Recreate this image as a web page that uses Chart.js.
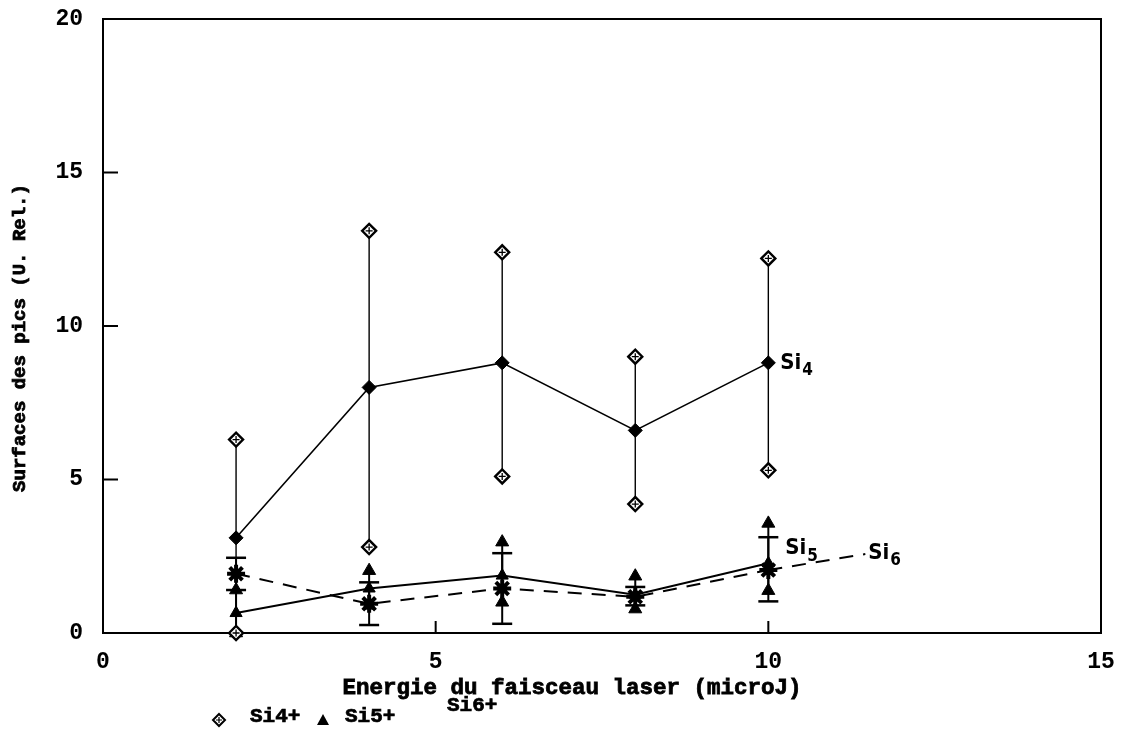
<!DOCTYPE html>
<html>
<head>
<meta charset="utf-8">
<script src="https://cdn.jsdelivr.net/npm/chart.js@4.4.1/dist/chart.umd.min.js"></script>
<style>
  html, body { margin: 0; padding: 0; background: #fff; }
  #wrap { width: 1126px; height: 751px; position: relative; }
  canvas { display: block; }
</style>
</head>
<body>
<div id="wrap"><canvas id="c" width="1126" height="751"></canvas></div>
<script>
// Laser pulse energy (microJ)
const energies = [2, 4, 6, 8, 10];

// Peak areas, Si4+ (mean, lower and upper bounds)
const si4Mean = [3.1, 8.0, 8.8, 6.6, 8.8];
const si4Low  = [0.0, 2.8, 5.1, 4.2, 5.3];
const si4High = [6.3, 13.1, 12.4, 9.0, 12.2];

// Peak areas, Si5+
const si5Mean = [0.65, 1.45, 1.87, 1.25, 2.27];
const si5Low  = [0.0, 0.9, 1.0, 0.78, 1.38];
const si5High = [1.4, 2.03, 2.96, 1.85, 3.57];

// Peak areas, Si6+
const si6Mean = [1.93, 0.95, 1.45, 1.18, 2.05];
const si6Low  = [1.4, 0.26, 0.3, 0.9, 1.03];
const si6High = [2.45, 1.65, 2.6, 1.5, 3.12];

// Axis ticks and text
const xTicks = [0, 5, 10, 15];
const yTicks = [0, 5, 10, 15, 20];
const legendNames = ['Si4+', 'Si5+', 'Si6+'];
const curveSubscripts = ['4', '5', '6'];
const xTitle = 'Energie du faisceau laser (microJ)';
const yTitle = 'Surfaces des pics (U. Rel.)';

const INK = '#000';
const MONO = '"Liberation Mono", "DejaVu Sans Mono", monospace';
const NARROW = '"Liberation Sans Narrow", "DejaVu Sans Condensed", sans-serif';

function pts(ys) { return energies.map((x, i) => ({ x, y: ys[i] })); }
function bounds(lo, hi) {
  const out = [];
  energies.forEach((x, i) => { out.push({ x, y: lo[i] }, { x, y: hi[i] }); });
  return out;
}
function whiskers(lo, hi) {
  const out = [];
  energies.forEach((x, i) => { out.push({ x, y: lo[i] }, { x, y: hi[i] }, { x, y: null }); });
  return out;
}

// Frame, inward tick marks, titles, curve tags and legend
const decor = {
  id: 'decor',
  beforeDatasetsDraw(chart) {
    const { ctx, chartArea: a, scales: { x, y } } = chart;
    ctx.save();
    ctx.strokeStyle = INK;
    ctx.lineWidth = 2;
    ctx.strokeRect(a.left, a.top, a.right - a.left, a.bottom - a.top);
    ctx.beginPath();
    yTicks.slice(1, -1).forEach(v => {
      const py = y.getPixelForValue(v);
      ctx.moveTo(a.left, py); ctx.lineTo(a.left + 15, py);
    });
    xTicks.slice(1, -1).forEach(v => {
      const px = x.getPixelForValue(v);
      ctx.moveTo(px, a.bottom); ctx.lineTo(px, a.bottom - 12);
    });
    ctx.stroke();
    ctx.restore();
  },
  afterDatasetsDraw(chart) {
    const { ctx, chartArea: a, scales: { x, y } } = chart;
    ctx.save();
    ctx.fillStyle = INK;
    ctx.strokeStyle = INK;

    // axis titles
    ctx.font = 'bold 22.5px ' + MONO;
    ctx.textAlign = 'center';
    ctx.textBaseline = 'middle';
    ctx.lineWidth = 0.8;
    const xt = (a.left + a.right) / 2 - 30;
    ctx.fillText(xTitle, xt, a.bottom + 55);
    ctx.strokeText(xTitle, xt, a.bottom + 55);
    ctx.save();
    ctx.translate(20, 338);
    ctx.rotate(-Math.PI / 2);
    ctx.font = 'bold 19px ' + MONO;
    ctx.fillText(yTitle, 0, 0);
    ctx.strokeText(yTitle, 0, 0);
    ctx.restore();

    // curve tags next to the last point of each series
    const means = [si4Mean, si5Mean, si6Mean];
    const offs = [[12, 0], [17, -15], [100, -17]];
    means.forEach((m, k) => {
      const n = m.length - 1;
      const px = x.getPixelForValue(energies[n]);
      const py = y.getPixelForValue(m[n]);
      const tx = px + offs[k][0], ty = py + offs[k][1];
      if (k === 2) {
        ctx.save();
        ctx.lineWidth = 2;
        ctx.setLineDash([14, 10]);
        ctx.beginPath();
        ctx.moveTo(px, py);
        ctx.lineTo(tx - 3, ty + 1);
        ctx.stroke();
        ctx.restore();
      }
      ctx.textAlign = 'left';
      ctx.textBaseline = 'middle';
      ctx.font = 'bold 22px ' + NARROW;
      ctx.fillText('Si', tx, ty);
      const w = ctx.measureText('Si').width;
      ctx.font = 'bold 17px ' + NARROW;
      ctx.fillText(curveSubscripts[k], tx + w + 1, ty + 8);
    });

    // legend
    const ly = a.bottom + 84;
    ctx.font = 'bold 21px ' + MONO;
    ctx.textAlign = 'left';
    ctx.textBaseline = 'middle';
    ctx.lineWidth = 0.7;
    // diamond with cross
    const dx = 219, dy = ly + 3;
    ctx.save();
    ctx.lineWidth = 2;
    ctx.fillStyle = '#fff';
    ctx.beginPath();
    ctx.moveTo(dx, dy - 6); ctx.lineTo(dx + 6, dy); ctx.lineTo(dx, dy + 6); ctx.lineTo(dx - 6, dy); ctx.closePath();
    ctx.fill(); ctx.stroke();
    ctx.lineWidth = 1.2;
    ctx.beginPath();
    ctx.moveTo(dx - 3, dy); ctx.lineTo(dx + 3, dy); ctx.moveTo(dx, dy - 3); ctx.lineTo(dx, dy + 3);
    ctx.stroke();
    ctx.restore();
    ctx.fillText(legendNames[0], 250, ly);
    ctx.strokeText(legendNames[0], 250, ly);
    // triangle
    const tx0 = 323, ty0 = ly + 3;
    ctx.beginPath();
    ctx.moveTo(tx0, ty0 - 6); ctx.lineTo(tx0 + 6, ty0 + 5); ctx.lineTo(tx0 - 6, ty0 + 5); ctx.closePath();
    ctx.fill();
    ctx.fillText(legendNames[1], 345, ly);
    ctx.strokeText(legendNames[1], 345, ly);
    ctx.fillText(legendNames[2], 447, ly - 11);
    ctx.strokeText(legendNames[2], 447, ly - 11);
    ctx.restore();
  }
};

const lineBase = { showLine: true, clip: false, fill: false, tension: 0, spanGaps: false };
const markBase = { showLine: false, clip: false };

new Chart(document.getElementById('c'), {
  type: 'scatter',
  data: {
    datasets: [
      { ...lineBase, label: 'Si4+', data: pts(si4Mean), borderColor: INK, borderWidth: 1.6,
        pointStyle: 'rectRot', pointRadius: 7, pointBackgroundColor: INK, pointBorderColor: INK, pointBorderWidth: 1 },
      { ...lineBase, label: 'Si5+', data: pts(si5Mean), borderColor: INK, borderWidth: 2,
        pointStyle: 'triangle', pointRadius: 7, pointBackgroundColor: INK, pointBorderColor: INK, pointBorderWidth: 1 },
      { ...lineBase, label: 'Si6+', data: pts(si6Mean), borderColor: INK, borderWidth: 2, borderDash: [14, 10],
        pointStyle: 'star', pointRadius: 9, pointBackgroundColor: INK, pointBorderColor: INK, pointBorderWidth: 4 },

      { ...markBase, label: 'Si4+ crosses', data: bounds(si4Low, si4High), pointStyle: 'cross',
        pointRadius: 3.5, pointBorderColor: INK, pointBorderWidth: 1.3 },
      { ...markBase, label: 'Si4+ bounds', data: bounds(si4Low, si4High), pointStyle: 'rectRot',
        pointRadius: 7, pointBackgroundColor: '#fff', pointBorderColor: INK, pointBorderWidth: 2.4 },
      { ...lineBase, label: 'Si4+ range', data: whiskers(si4Low, si4High), borderColor: INK, borderWidth: 1.4, pointRadius: 0 },

      { ...markBase, label: 'Si5+ bounds', data: bounds(si5Low, si5High), pointStyle: 'triangle',
        pointRadius: 7.5, pointBackgroundColor: INK, pointBorderColor: INK, pointBorderWidth: 1 },
      { ...lineBase, label: 'Si5+ range', data: whiskers(si5Low, si5High), borderColor: INK, borderWidth: 2, pointRadius: 0 },

      { ...markBase, label: 'Si6+ caps', data: bounds(si6Low, si6High), pointStyle: 'line',
        pointRadius: 10, pointBorderColor: INK, pointBorderWidth: 2.5 },
      { ...lineBase, label: 'Si6+ range', data: whiskers(si6Low, si6High), borderColor: INK, borderWidth: 2, pointRadius: 0 }
    ]
  },
  options: {
    responsive: false,
    animation: false,
    events: [],
    layout: { padding: { top: 19, right: 25, left: 0, bottom: 0 } },
    plugins: { legend: { display: false }, tooltip: { enabled: false }, title: { display: false } },
    scales: {
      x: {
        type: 'linear', min: 0, max: 15,
        afterBuildTicks: s => { s.ticks = xTicks.map(v => ({ value: v })); },
        afterFit: s => { s.height = 118; s.paddingLeft = 0; s.paddingRight = 0; },
        grid: { display: false, drawTicks: false },
        border: { display: false },
        ticks: { color: INK, padding: 15, maxRotation: 0, font: { family: MONO, size: 23, weight: 'bold' } }
      },
      y: {
        type: 'linear', min: 0, max: 20,
        afterBuildTicks: s => { s.ticks = yTicks.map(v => ({ value: v })); },
        afterFit: s => { s.width = 103; s.paddingTop = 0; s.paddingBottom = 0; },
        grid: { display: false, drawTicks: false },
        border: { display: false },
        ticks: { color: INK, padding: 20, font: { family: MONO, size: 23, weight: 'bold' } }
      }
    }
  },
  plugins: [decor]
});
</script>
</body>
</html>
